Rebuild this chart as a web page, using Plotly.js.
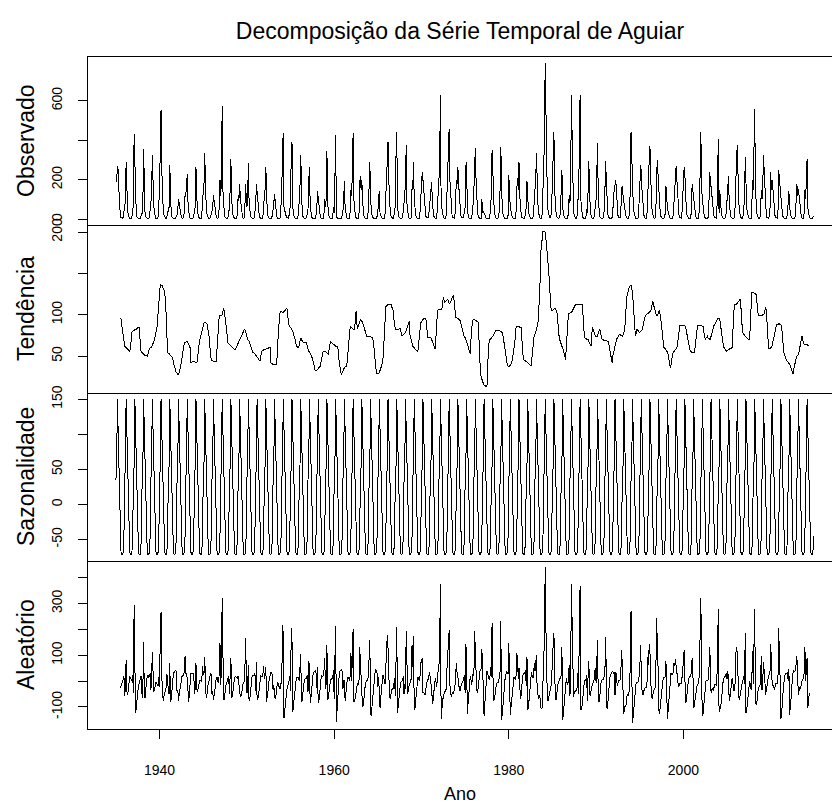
<!DOCTYPE html>
<html><head><meta charset="utf-8">
<script src="https://cdn.plot.ly/plotly-3.0.1.min.js"></script>
<style>html,body{margin:0;padding:0;background:#fff}
#chart path.js-line{shape-rendering:crispEdges}</style>
</head><body><div id="chart" style="width:832px;height:803px"></div>
<script>
// Monthly series, Jan 1935 - Dec 2014 (one row per year)
const startYear = 1935;
const frequency = 12;
const seasonalFigure = [35, 55, 150, 100, 45, -5, -50, -68, -72, -72, -68, -45];
const observed = [
220,190,270,250,150,60,20,8,5,4,10,40,
40,90,290,120,50,20,8,4,3,3,15,60,
70,430,307,60,25,12,6,3,2,2,8,30,
25,80,353,100,30,12,5,3,2,2,10,45,
60,120,325,150,70,30,10,5,3,3,15,90,
150,380,553,250,120,50,20,8,5,5,12,30,
40,60,273,70,25,10,5,3,2,2,6,20,
20,50,103,80,45,15,8,5,4,10,40,120,
130,153,230,90,30,12,6,3,2,2,6,25,
30,70,262,110,50,20,8,4,3,3,15,100,
150,171,333,150,70,30,12,6,4,3,8,25,
30,60,120,90,50,25,10,5,4,10,60,200,
120,200,571,150,80,30,12,6,4,3,10,40,
50,150,304,100,45,18,8,4,3,3,8,30,
120,90,180,110,60,25,10,5,4,10,180,120,
60,90,282,90,40,15,7,4,3,3,8,40,
50,180,130,80,35,15,7,4,3,3,15,70,
100,150,265,80,40,15,7,4,3,3,6,20,
40,80,129,70,30,12,6,4,3,3,10,60,
150,374,435,60,40,35,15,8,5,5,20,60,
80,345,391,60,30,12,6,4,3,3,8,30,
100,171,325,90,40,15,7,4,3,3,10,40,
50,190,262,70,30,12,6,3,2,2,5,20,
40,143,100,60,25,10,5,3,2,5,30,100,
60,100,343,80,35,14,7,4,3,3,10,60,
30,200,426,5,8,5,3,2,2,2,5,20,
40,90,191,60,25,10,5,3,2,5,40,150,
120,245,435,100,50,20,8,4,3,3,10,180,
216,150,200,90,40,15,7,4,3,3,10,50,
180,288,96,40,20,8,4,3,2,2,4,15,
40,100,143,30,15,8,4,3,2,5,30,120,
250,345,391,200,100,40,15,8,5,5,15,50,
60,330,442,60,30,12,6,4,3,3,10,50,
60,120,200,374,80,30,12,6,4,4,10,160,
150,290,100,50,25,10,5,3,2,5,40,120,
200,238,200,150,90,40,15,8,5,5,20,60,
120,120,190,80,35,15,7,4,3,10,60,100,
200,300,630,62,60,30,12,6,4,4,20,120,
250,305,459,200,120,50,20,10,6,6,20,80,
200,180,262,180,110,50,20,10,6,6,15,50,
60,270,290,40,20,8,4,3,2,5,40,80,
150,343,360,200,100,40,15,6,3,2,4,100,
30,40,30,20,10,5,3,2,2,3,15,80,
120,350,270,100,50,20,8,4,3,3,10,50,
150,368,80,50,25,10,5,3,2,2,5,20,
222,100,60,40,20,8,4,3,2,5,40,150,
206,150,288,120,60,25,10,5,3,3,8,40,
60,191,80,40,20,8,4,3,2,5,20,100,
150,200,333,150,80,30,12,6,4,4,30,200,
333,400,790,497,250,100,40,20,10,8,20,80,
200,300,442,150,80,30,12,6,4,4,10,40,
120,250,60,30,15,6,3,2,2,5,40,120,
80,150,630,400,100,40,15,8,5,5,20,100,
100,400,630,100,50,20,8,4,3,3,10,50,
30,150,296,120,50,20,8,4,3,5,40,80,
100,238,384,100,45,15,7,4,3,3,10,40,
120,296,200,60,25,10,5,3,2,3,10,40,
120,148,160,200,140,50,20,10,6,8,40,150,
169,120,100,80,40,15,7,4,3,5,60,150,
442,313,116,80,40,15,7,4,3,3,10,60,
150,273,250,150,80,30,12,6,4,5,30,150,
200,300,370,200,100,40,15,8,5,5,30,300,
300,235,150,80,40,15,7,4,3,3,8,30,
169,80,60,40,20,8,4,3,2,3,20,80,
150,200,268,200,120,50,20,10,6,6,30,120,
200,263,230,100,50,20,8,4,3,3,10,40,
180,150,100,60,30,12,6,4,3,5,60,238,
442,150,100,60,30,12,6,4,3,3,10,60,
238,200,180,150,100,40,15,8,5,5,30,200,
408,30,150,80,40,15,7,4,3,3,10,40,
100,150,216,80,40,15,7,4,3,3,10,60,
250,300,374,200,100,40,15,8,5,5,15,50,
100,316,100,60,30,12,6,4,3,5,60,200,
150,405,556,150,80,30,12,6,4,5,30,150,
100,150,325,250,150,50,15,8,5,5,15,50,
238,150,200,150,100,40,15,8,5,5,40,250,
200,150,90,60,30,12,6,4,3,3,8,30,
80,143,60,30,15,6,3,2,2,3,20,90,
180,120,150,120,80,30,12,6,4,5,30,150,
100,200,304,60,30,12,6,4,3,3,8,17
];
const trend = [
null,null,null,null,null,null,96,95,88,80,72,64,
62,61,60,59,58,57,56,56,60,72,79,80,
81,81,82,82,83,83,84,85,85,62,58,55,
54,53,52,52,51,51,50,50,52,58,59,60,
60,61,63,65,66,70,74,78,83,88,103,120,
136,137,136,136,134,132,130,125,121,100,54,54,
53,53,52,51,50,50,48,42,40,36,32,30,
29,28,28,30,34,38,44,52,56,62,66,67,
67,68,68,66,64,62,60,42,43,43,44,44,
43,42,42,42,45,55,68,70,72,76,80,85,
88,90,91,91,90,89,85,80,74,62,46,45,
45,44,44,44,44,44,44,60,79,88,99,99,
99,99,100,104,108,104,98,93,85,75,66,65,
65,64,63,62,61,60,59,58,58,60,62,63,
64,66,68,70,72,74,76,78,80,83,80,76,
72,71,69,68,65,62,58,56,55,55,54,53,
52,50,50,48,46,44,44,50,56,57,57,58,
58,58,59,59,59,60,60,60,60,42,41,40,
40,40,40,40,40,40,60,79,90,100,104,104,
104,103,103,104,105,106,107,108,100,90,87,86,
85,83,82,80,77,74,72,68,62,61,60,60,
64,68,72,70,68,66,66,66,66,66,66,62,
58,56,55,54,52,50,48,44,40,36,32,33,
33,34,35,36,37,38,44,50,56,56,56,56,
56,55,54,53,52,58,64,68,67,66,65,64,
63,62,62,62,61,61,50,42,36,30,28,30,
34,36,36,37,37,37,45,55,64,75,86,85,
84,83,83,82,82,90,104,90,83,86,90,93,
94,93,92,91,88,84,81,78,76,74,74,74,
74,74,74,73,72,72,66,56,45,30,30,29,
29,29,30,32,34,38,42,46,60,85,109,110,
111,112,113,113,113,113,113,110,108,105,95,83,
83,82,82,82,82,83,83,83,78,74,75,76,
76,77,79,81,83,86,90,92,76,72,68,64,
62,61,60,58,57,57,56,56,65,76,87,90,
92,94,94,95,95,96,96,85,72,72,72,72,
72,72,70,67,64,62,60,59,80,105,105,106,
106,106,106,107,107,114,121,118,115,116,117,118,
119,117,113,114,116,118,120,122,124,115,105,97,
97,96,95,94,94,93,90,86,82,78,75,72,
72,70,68,66,62,58,55,53,70,93,93,94,
94,94,93,93,92,91,91,70,40,30,25,21,
19,17,15,15,14,13,13,40,68,69,70,71,
71,72,74,76,78,80,81,81,81,81,81,81,
80,80,79,79,75,68,60,58,50,39,39,38,
38,38,39,40,42,46,52,58,62,72,85,86,
86,86,86,85,85,85,70,55,46,45,45,44,
44,43,42,41,40,39,39,38,50,62,72,76,
77,79,82,86,90,102,115,140,176,185,200,201,
201,200,200,192,182,178,165,152,135,113,108,105,
105,106,107,108,107,106,105,95,81,75,70,66,
64,62,60,58,54,50,46,60,79,90,102,102,
102,103,103,104,106,108,110,113,113,113,113,113,
113,113,113,113,113,113,100,79,72,72,71,70,
70,70,68,65,62,62,75,85,82,78,74,74,
74,74,74,78,80,83,78,72,71,70,70,69,
69,69,69,68,68,68,62,56,50,46,42,50,
55,58,62,66,70,72,74,75,76,76,75,74,
74,76,78,81,90,115,120,125,130,132,134,136,
136,132,127,115,99,88,74,78,83,82,80,79,
79,80,80,81,85,90,95,97,99,100,101,101,
102,103,104,104,110,115,117,112,107,104,102,100,
99,101,104,106,100,95,87,78,68,60,60,59,
58,57,55,52,48,44,36,40,48,52,54,56,
58,58,59,60,65,75,87,87,87,87,87,87,
87,87,87,85,80,74,70,66,62,58,56,54,
54,54,54,54,60,70,79,84,87,87,87,87,
87,87,86,86,80,75,70,72,74,74,72,71,
70,70,74,78,81,84,87,88,90,92,95,95,
95,95,95,88,80,74,68,62,60,58,56,56,
57,57,58,58,59,59,60,60,80,113,113,113,
113,113,114,115,116,117,119,110,87,82,78,76,
75,74,73,72,72,71,70,70,90,110,127,127,
127,126,126,125,125,115,105,99,99,99,99,99,
99,100,100,101,105,109,105,95,75,59,59,59,
60,60,63,68,72,78,82,87,88,88,89,89,
89,88,88,87,75,58,55,52,48,47,45,44,
43,42,40,38,36,33,30,28,35,40,46,48,
50,51,52,56,60,64,68,74,70,66,64,64,
64,64,64,63,63,63,null,null,null,null,null,null
];
const random = [
null,null,null,null,null,null,-26,-19,-11,-4,6,21,
-57,-26,80,-39,-53,-32,2,16,15,3,4,25,
-46,294,75,-122,-103,-66,-28,-14,-11,12,18,20,
-64,-28,151,-52,-66,-34,5,21,22,16,19,30,
-35,4,112,-15,-41,-35,-14,-5,-8,-13,-20,15,
-21,188,267,14,-59,-77,-60,-49,-44,-23,26,21,
-48,-48,71,-81,-70,-35,7,29,34,38,42,35,
-44,-33,-75,-50,-34,-18,14,21,20,20,42,98,
28,30,12,-76,-79,-45,-4,29,31,31,30,26,
-48,-27,70,-32,-40,-30,-10,2,3,-1,3,60,
27,26,92,-41,-65,-54,-23,-6,2,13,30,25,
-50,-39,-74,-54,-39,-14,16,13,-3,-6,29,146,
-14,46,321,-54,-73,-69,-36,-19,-9,0,12,20,
-50,31,91,-62,-61,-37,-1,14,17,15,14,12,
21,-31,-38,-60,-57,-44,-16,-5,-4,-1,168,89,
-47,-36,63,-78,-70,-42,-1,16,20,20,22,32,
-37,75,-70,-68,-56,-24,13,22,19,18,26,57,
7,37,56,-79,-64,-40,-3,12,15,33,33,25,
-35,-15,-61,-70,-55,-23,-4,-7,-15,-31,-26,1,
11,216,182,-144,-110,-66,-42,-32,-23,-13,1,19,
-40,207,159,-120,-92,-57,-16,4,13,14,16,15,
1,48,103,-80,-73,-46,-9,6,9,9,12,23,
-43,79,57,-84,-67,-33,8,27,34,38,41,32,
-28,54,-85,-76,-57,-23,11,21,18,21,42,89,
-31,-10,139,-73,-62,-39,-7,4,8,9,13,41,
-68,83,214,-157,-98,-51,3,28,38,44,45,35,
-29,-1,5,-77,-57,-22,10,16,10,2,22,110,
1,107,202,-82,-77,-65,-46,-18,-8,-11,-12,132,
87,2,-42,-101,-93,-64,-24,-6,-1,1,4,21,
71,159,-128,-133,-97,-59,-12,15,29,44,42,31,
-24,16,-37,-102,-64,-25,12,25,14,-8,-11,55,
104,178,128,-13,-58,-68,-48,-34,-31,-28,-12,12,
-58,193,210,-122,-97,-66,-27,-11,-3,1,3,19,
-51,-12,-29,193,-48,-51,-28,-18,0,4,10,141,
53,174,-110,-108,-77,-42,-1,15,9,1,21,75,
73,89,-44,-45,-50,-51,-31,-9,5,5,16,33,
13,-7,-30,-87,-74,-42,-3,13,-5,-23,23,39,
59,139,374,-145,-92,-79,-59,-44,-39,-40,-29,47,
96,133,196,-14,-41,-63,-50,-44,-46,-37,-17,28,
68,29,17,-14,-29,-38,-20,-8,-4,0,8,23,
-47,145,72,-126,-87,-45,-1,18,4,-16,15,31,
21,194,117,7,-37,-46,-26,4,35,44,47,124,
-24,-32,-135,-95,-49,-3,40,30,6,6,13,54,
14,223,46,-76,-73,-55,-23,-9,-6,-6,-3,14,
35,233,-149,-129,-95,-53,-5,13,24,35,34,27,
149,7,-129,-100,-67,-33,2,13,12,5,23,109,
85,9,52,-65,-70,-55,-10,18,29,30,31,41,
-19,93,-112,-101,-65,-26,15,33,24,15,16,69,
38,66,101,-36,-55,-67,-53,-66,-100,-109,-102,44,
97,145,440,205,23,-73,-75,-64,-53,-33,-20,20,
60,139,185,-58,-72,-71,-43,-21,-5,1,8,19,
21,133,-150,-128,-84,-39,7,10,-5,-13,6,63,
-57,-8,377,196,-51,-63,-45,-37,-36,-36,-25,32,
-48,232,367,-113,-108,-88,-42,-7,3,3,7,25,
-75,25,78,-45,-57,-37,-17,-13,-7,-1,34,51,
-9,109,160,-78,-80,-63,-21,0,4,5,8,16,
16,172,-19,-108,-88,-53,-7,15,24,29,36,35,
30,35,-52,34,25,-17,-4,3,2,4,33,121,
60,-11,-128,-101,-95,-95,-63,-53,-55,-55,-6,59,
271,126,-161,-135,-104,-68,-17,-6,-8,-7,-2,26,
36,138,20,-31,-50,-55,-33,-23,-23,-23,-3,94,
63,142,116,-4,-55,-70,-52,-36,-30,-27,-4,245,
166,79,-104,-126,-105,-75,-30,-6,7,15,16,16,
76,-32,-145,-112,-73,-31,18,31,26,23,34,69,
57,87,59,40,10,-20,-17,-9,-9,-9,11,78,
78,121,-7,-85,-75,-49,-12,6,13,17,22,31,
91,41,-104,-94,-75,-53,-23,-12,-12,-10,41,196,
320,8,-136,-126,-95,-58,-14,0,1,1,6,34,
133,75,-44,-28,-26,-39,-22,-12,-13,-15,3,150,
278,-120,-95,-108,-85,-54,-11,10,15,17,22,29,
8,38,8,-78,-64,-39,-3,12,-5,-38,-35,-8,
102,132,110,-15,-61,-72,-54,-34,-10,-5,5,19,
-10,187,-123,-112,-87,-54,-14,2,-15,-33,1,118,
-12,224,280,-75,-90,-80,-43,-25,-23,-22,-1,96,
-34,-5,75,49,0,-54,-40,-19,2,18,24,36,
143,35,-13,-18,-17,-33,-17,-11,-11,-11,19,206,
76,7,-148,-127,-90,-41,1,20,27,28,31,31,
2,46,-130,-108,-66,-22,23,42,39,35,42,87,
95,14,-52,-36,-25,-29,-6,0,6,11,34,131,
1,81,90,-103,-78,-46,null,null,null,null,null,null
];
const panelTitles = ['Observado', 'Tendência', 'Sazonalidade', 'Aleatório'];
const xTickYears = [1940, 1960, 1980, 2000];
const mainTitle = 'Decomposição da Série Temporal de Aguiar';
const xLabel = 'Ano';

const time = observed.map((_, i) => startYear + i / frequency);
const seasonal = observed.map((_, i) => seasonalFigure[i % frequency]);

function padded(arr) {
  const v = arr.filter(d => d !== null);
  const lo = Math.min(...v), hi = Math.max(...v);
  const p = 0.04 * (hi - lo);
  return [lo - p, hi + p];
}

const FONT = '"Liberation Sans", Arimo, Arial, sans-serif';
const series = [observed, trend, seasonal, random];
const yTicks = [
  {vals: [0, 200, 400, 600], text: ['0', '200', '', '600']},
  {vals: [50, 100, 150, 200], text: ['50', '100', '', '200']},
  {vals: [-50, 0, 50, 100, 150], text: ['-50', '0', '50', '', '150']},
  {vals: [-100, 0, 100, 200, 300, 400], text: ['-100', '', '100', '', '300', '']}
];
const doms = [[0.75, 1], [0.5, 0.75], [0.25, 0.5], [0, 0.25]];

const traces = series.map((s, k) => ({
  x: time, y: s, type: 'scatter', mode: 'lines',
  line: {color: '#000', width: 1},
  xaxis: 'x' + (k + 1), yaxis: 'y' + (k + 1),
  hoverinfo: 'skip', showlegend: false
}));

const xr = [1931.8, 2017.02];
const layout = {
  width: 832, height: 803,
  margin: {l: 88, r: 0, t: 57, b: 74},
  paper_bgcolor: '#fff', plot_bgcolor: '#fff',
  font: {family: FONT, color: '#000', size: 14},
  title: {text: mainTitle, x: 0.5, xref: 'paper', xanchor: 'center',
          y: 1 - 31 / 803, yref: 'container', yanchor: 'middle',
          font: {family: FONT, size: 23, color: '#000'}},
  annotations: [],
  showlegend: false
};
for (let k = 0; k < 4; k++) {
  const xa = 'xaxis' + (k + 1), ya = 'yaxis' + (k + 1);
  const bottom = k === 3;
  layout[xa] = {
    domain: [0, 1], anchor: 'y' + (k + 1), range: xr,
    showline: true, mirror: k === 0, linecolor: '#000', linewidth: 1,
    showgrid: false, zeroline: false,
    ticks: bottom ? 'outside' : '', ticklen: 9, tickcolor: '#000', tickwidth: 1,
    tickvals: xTickYears, ticktext: xTickYears.map(String),
    showticklabels: bottom, ticklabelstandoff: 19,
    tickfont: {family: FONT, size: 14, color: '#000'}
  };
  if (k < 3) layout[xa].matches = 'x4';
  layout[ya] = {
    domain: doms[k], anchor: 'x' + (k + 1), range: padded(series[k]),
    showline: true, mirror: false, linecolor: '#000', linewidth: 1,
    showgrid: false, zeroline: false,
    ticks: 'outside', ticklen: 9, tickcolor: '#000', tickwidth: 1,
    tickvals: yTicks[k].vals, ticktext: yTicks[k].text,
    tickangle: -90, ticklabelstandoff: 10,
    tickfont: {family: FONT, size: 14, color: '#000'}
  };
  layout.annotations.push({
    text: panelTitles[k], xref: 'paper', yref: 'paper',
    x: 0, y: (doms[k][0] + doms[k][1]) / 2, xshift: -62,
    xanchor: 'center', yanchor: 'middle', textangle: -90, showarrow: false,
    font: {family: FONT, size: 23, color: '#000'}
  });
}
layout.annotations.push({
  text: xLabel, xref: 'paper', yref: 'paper', x: 0.5, y: 0, yshift: -65,
  xanchor: 'center', yanchor: 'middle', showarrow: false,
  font: {family: FONT, size: 18, color: '#000'}
});

Plotly.newPlot('chart', traces, layout, {displayModeBar: false, staticPlot: true});
</script>
</body></html>
